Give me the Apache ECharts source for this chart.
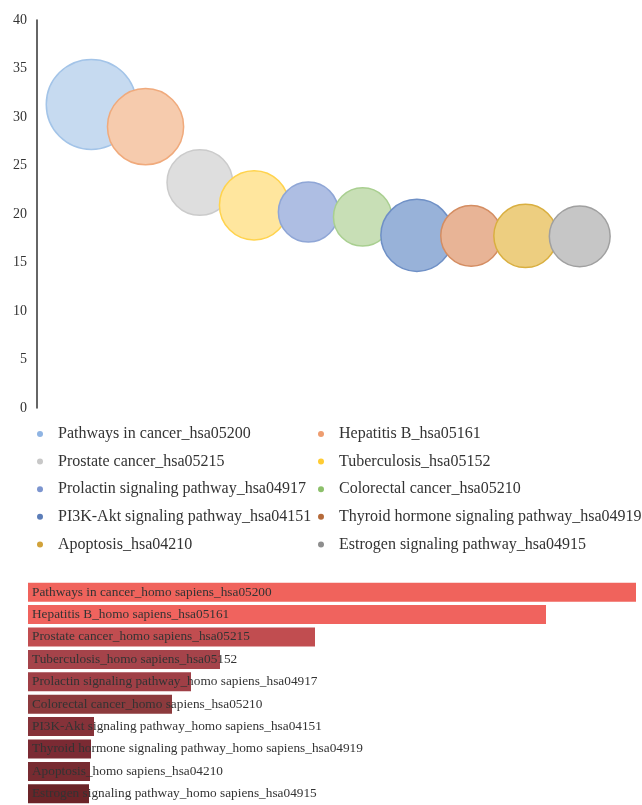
<!DOCTYPE html>
<html>
<head>
<meta charset="utf-8">
<script src="https://cdn.jsdelivr.net/npm/echarts@6/dist/echarts.min.js"></script>
<style>html,body{margin:0;padding:0;background:#fff;}#c{width:642px;height:805px;}</style>
</head>
<body>
<div id="c"></div>
<script>
// ---- data ----
var pathways = ['Pathways in cancer_hsa05200','Hepatitis B_hsa05161','Prostate cancer_hsa05215','Tuberculosis_hsa05152','Prolactin signaling pathway_hsa04917','Colorectal cancer_hsa05210','PI3K-Akt signaling pathway_hsa04151','Thyroid hormone signaling pathway_hsa04919','Apoptosis_hsa04210','Estrogen signaling pathway_hsa04915'];
var bubbleX = [1,2,3,4,5,6,7,8,9,10];
var bubbleY = [31.3,29.0,23.25,20.9,20.2,19.7,17.8,17.75,17.75,17.7];
var bubbleSize = [81,58,43,48,36,34,52,37,40,37];
var yTicks = [0,5,10,15,20,25,30,35,40];
var barCategories = ['Pathways in cancer_homo sapiens_hsa05200','Hepatitis B_homo sapiens_hsa05161','Prostate cancer_homo sapiens_hsa05215','Tuberculosis_homo sapiens_hsa05152','Prolactin signaling pathway_homo sapiens_hsa04917','Colorectal cancer_homo sapiens_hsa05210','PI3K-Akt signaling pathway_homo sapiens_hsa04151','Thyroid hormone signaling pathway_homo sapiens_hsa04919','Apoptosis_homo sapiens_hsa04210','Estrogen signaling pathway_homo sapiens_hsa04915'];
var barValues = [60.8,51.8,28.7,19.2,16.3,14.4,6.6,6.3,6.2,6.1];

// ---- styles ----
var fillColors = ['#C6DAF0','#F6CBAD','#DEDEDE','#FFE69E','#AEBEE3','#C8DFB6','#98B2D9','#E8B496','#EDCE80','#C6C6C6'];
var borderColors = ['#A3C4E8','#F0AA7C','#CBCBCB','#FFD34D','#8FA6D6','#A9CF90','#6F90C6','#D48D62','#D9AF40','#A0A0A0'];
var dotColors = ['#8FB4E3','#EE9D70','#C8C8C8','#FFCC33','#7C95CF','#8CC06A','#5B7DB8','#B56A3A','#D1A23A','#8E8E8E'];
var barColors = ['#F0635C','#F0635E','#C14D50','#A5434A','#9F3F46','#8C3A3D','#853239','#7B2A33','#772B31','#6B2428'];
var serif = '"Liberation Serif", "DejaVu Serif", serif';

var chart = echarts.init(document.getElementById('c'), null, {renderer:'canvas'});

var series = pathways.map(function(name,i){
  return {
    type:'scatter', name:name, xAxisIndex:0, yAxisIndex:0,
    data:[[bubbleX[i], bubbleY[i], bubbleSize[i]]],
    symbolSize:function(d){ return 10*Math.sqrt(d[2]); },
    itemStyle:{color:fillColors[i], borderColor:borderColors[i], borderWidth:1.5, opacity:1},
    emphasis:{disabled:true}, silent:true, z:2+i
  };
});
series.push({
  type:'bar', xAxisIndex:1, yAxisIndex:1,
  data:barValues.map(function(v,i){return {value:v, itemStyle:{color:barColors[i]}};}),
  barWidth:19,
  label:{show:true, position:'insideLeft', distance:4, formatter:'{b}', color:'#333', fontFamily:serif, fontSize:13.3},
  silent:true
});

function legendItems(idx){
  return idx.map(function(i){return {name:pathways[i], itemStyle:{color:dotColors[i], borderWidth:0}};});
}
var legendCommon = {
  orient:'vertical', icon:'circle', itemWidth:26, itemHeight:6, itemGap:9.6, padding:0,
  textStyle:{fontFamily:serif, fontSize:16, color:'#333', lineHeight:18},
  selectedMode:false, top:425
};

chart.setOption({
  animation:false,
  backgroundColor:'#fff',
  grid:[
    {left:37, right:8, top:20, height:388},
    {left:28, width:608, top:581, height:229}
  ],
  xAxis:[
    {type:'value', gridIndex:0, min:0, max:11, show:false},
    {type:'value', gridIndex:1, min:0, max:60.8, show:false}
  ],
  yAxis:[
    {type:'value', gridIndex:0, min:yTicks[0], max:yTicks[yTicks.length-1], interval:5,
     axisLine:{show:true, lineStyle:{color:'#333', width:1.5}}, axisTick:{show:false}, splitLine:{show:false},
     axisLabel:{fontFamily:serif, fontSize:14, color:'#333', margin:10}},
    {type:'category', gridIndex:1, data:barCategories, inverse:true, show:false}
  ],
  legend:[
    Object.assign({left:37, data:legendItems([0,2,4,6,8])}, legendCommon),
    Object.assign({left:318, data:legendItems([1,3,5,7,9])}, legendCommon)
  ],
  series:series
});
</script>
</body>
</html>
